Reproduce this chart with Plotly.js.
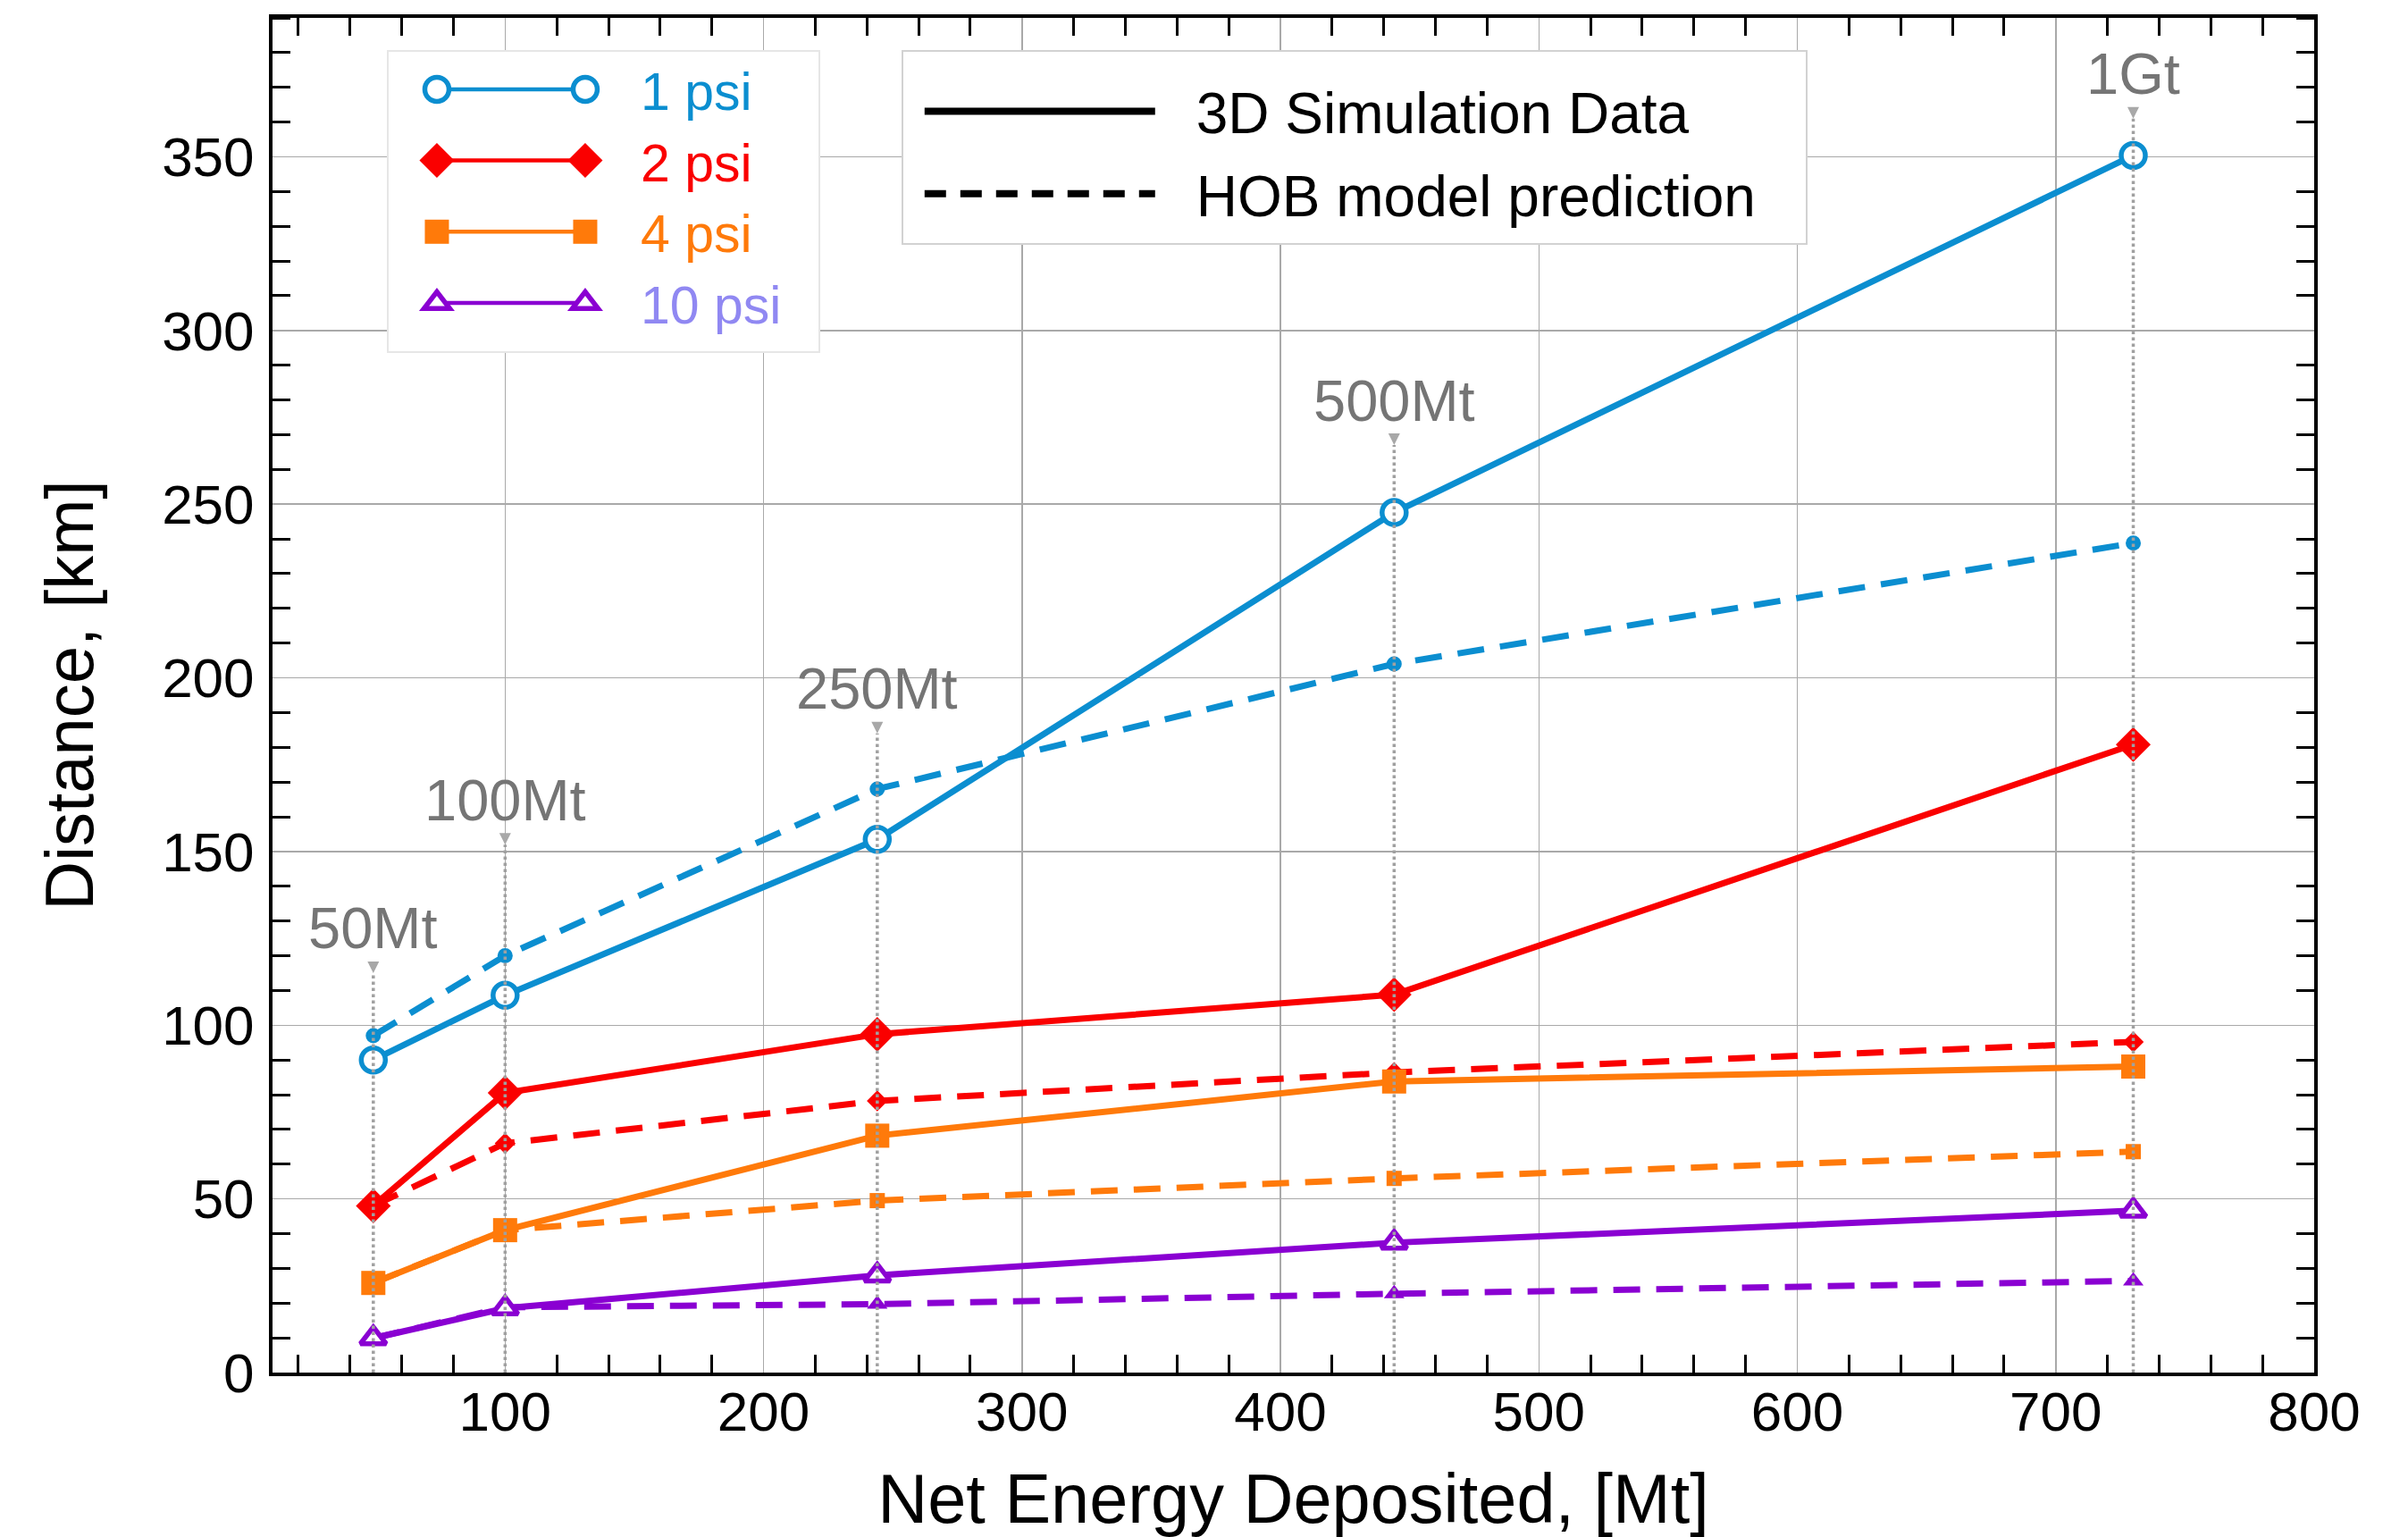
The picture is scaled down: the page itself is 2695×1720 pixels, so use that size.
<!DOCTYPE html>
<html>
<head>
<meta charset="utf-8">
<script src="https://cdn.plot.ly/plotly-3.0.1.min.js"></script>
<style>
html, body { margin: 0; padding: 0; background: #ffffff; }
#chart { width: 2695px; height: 1720px; }
</style>
</head>
<body>
<div id="chart"></div>
<script>
// ---------------- data ----------------
const energy = [49, 100, 244, 444, 730];               // Net energy deposited [Mt]
const sim1psi  = [90, 108.6, 153.5, 247.6, 350.4];
const hob1psi  = [97, 120, 168, 204, 238.8];
const sim2psi  = [48, 80.5, 97.4, 108.8, 180.8];
const hob2psi  = [48, 66, 78.2, 86.4, 95.2];
const sim4psi  = [25.8, 41, 68.2, 83.8, 88.1];
const hob4psi  = [25.8, 41, 49.5, 55.9, 63.6];
const sim10psi = [9.9, 18.5, 28, 37.4, 46.6];
const hob10psi = [9.9, 18.8, 19.7, 22.7, 26.4];
const yieldLabels = ['50Mt', '100Mt', '250Mt', '500Mt', '1Gt'];
const yieldMarkerTop = [115, 152, 184, 267, 361];
const seriesNames = ['1 psi', '2 psi', '4 psi', '10 psi'];
const styleNames = ['3D Simulation Data', 'HOB model prediction'];
const xTitle = 'Net Energy Deposited, [Mt]';
const yTitle = 'Distance, [km]';

// ---------------- styles ----------------
const FONT = '"Liberation Sans", Arial, Helvetica, sans-serif';
const colors = ['#0b8ed0', '#fa0000', '#ff7a0a', '#8a00d2'];
const legendTextColors = ['#0b8ed0', '#fa0000', '#ff7a0a', '#9088f2'];
const simSymbols = ['circle', 'diamond', 'square', 'triangle-up'];
const simHollow = [true, false, false, true];
const simSizes = [27, 30, 27, 25];
const hobSymbols = ['circle', 'diamond', 'square', 'triangle-up'];
const hobSizes = [17, 18, 17, 20];
const DASH = '30px,18px';

const simSeries = [sim1psi, sim2psi, sim4psi, sim10psi];
const hobSeries = [hob1psi, hob2psi, hob4psi, hob10psi];

const traces = [];
// dashed model predictions first (drawn below)
hobSeries.forEach((ys, i) => {
  traces.push({
    type: 'scatter', mode: 'lines+markers', x: energy, y: ys,
    name: seriesNames[i] + ' HOB', showlegend: false,
    line: { color: colors[i], width: 7, dash: DASH },
    marker: { symbol: hobSymbols[i], size: hobSizes[i], color: colors[i], line: { width: 0 } },
    hoverinfo: 'x+y'
  });
});
simSeries.forEach((ys, i) => {
  traces.push({
    type: 'scatter', mode: 'lines+markers', x: energy, y: ys,
    name: '<span style="color:' + legendTextColors[i] + '">' + seriesNames[i] + '</span>',
    legend: 'legend',
    line: { color: colors[i], width: 7 },
    marker: { symbol: simSymbols[i], size: simSizes[i],
              color: simHollow[i] ? '#ffffff' : colors[i],
              line: { width: simHollow[i] ? 5.5 : 0, color: colors[i] } },
    hoverinfo: 'x+y'
  });
});
// style legend entries (no data)
traces.push({ type: 'scatter', mode: 'lines', x: [null], y: [null], name: styleNames[0],
  legend: 'legend2', legendgroup: 'a', line: { color: '#000', width: 5 } });
traces.push({ type: 'scatter', mode: 'lines', x: [null], y: [null], name: styleNames[1],
  legend: 'legend2', legendgroup: 'b', line: { color: '#000', width: 5, dash: '24px,16px' } });

// dotted guide lines and yield labels
const shapes = energy.map((e, i) => ({
  type: 'line', xref: 'x', yref: 'y', x0: e, x1: e, y0: 0, y1: yieldMarkerTop[i],
  line: { color: '#a0a0a0', width: 3.5, dash: 'dot' }, layer: 'above'
}));
const annotations = energy.map((e, i) => ({
  x: e, y: yieldMarkerTop[i], xref: 'x', yref: 'y', text: yieldLabels[i],
  showarrow: true, ax: 0, ay: -50, arrowhead: 2, arrowsize: 1.3, arrowwidth: 2,
  arrowcolor: '#a8a8a8', standoff: 0,
  font: { family: FONT, size: 65, color: '#757575' }
}));

const axisCommon = {
  showline: true, linecolor: '#000', linewidth: 4, mirror: 'allticks',
  ticks: '', showgrid: true, gridcolor: '#a9a9a9', gridwidth: 1.5,
  zeroline: false, automargin: false,
  tickfont: { family: FONT, size: 62, color: '#000' }
};

const layout = {
  width: 2695, height: 1720,
  margin: { l: 305, r: 105, t: 20, b: 184 },
  paper_bgcolor: '#ffffff', plot_bgcolor: '#ffffff',
  font: { family: FONT, color: '#000' },
  showlegend: true,
  xaxis: Object.assign({}, axisCommon, {
    range: [10, 800], tick0: 0, dtick: 100, ticklabelstandoff: -13,
    minor: { dtick: 20, tick0: 0, ticks: 'inside', ticklen: 20, tickwidth: 3, tickcolor: '#000', showgrid: false },
    title: { text: xTitle, standoff: 58, font: { family: FONT, size: 77.5, color: '#000' } }
  }),
  yaxis: Object.assign({}, axisCommon, {
    range: [0, 390], tick0: 0, dtick: 50, ticklabelstandoff: 4,
    minor: { dtick: 10, tick0: 0, ticks: 'inside', ticklen: 20, tickwidth: 3, tickcolor: '#000', showgrid: false },
    title: { text: yTitle, standoff: 53, font: { family: FONT, size: 76, color: '#000' } }
  }),
  legend: {
    x: 0.056, y: 0.9782, xanchor: 'left', yanchor: 'top',
    bgcolor: '#ffffff', bordercolor: '#e6e6e6', borderwidth: 2,
    font: { family: FONT, size: 59 }, itemwidth: 272, traceorder: 'normal'
  },
  legend2: {
    x: 0.308, y: 0.9641, xanchor: 'left', yanchor: 'top',
    bgcolor: '#ffffff', bordercolor: '#d2d2d2', borderwidth: 2,
    font: { family: FONT, size: 64, color: '#000' }, itemwidth: 318,
    traceorder: 'grouped', tracegroupgap: 6
  },
  shapes: shapes,
  annotations: annotations
};

function restyleLegends(gd) {
  const traceGroups = gd.querySelectorAll('.scatterlayer .trace');
  // legend 1: long sample line with a marker at each end (same marker as in the plot)
  const lg1 = gd.querySelector('g.legend');
  if (lg1) {
    const bg = lg1.querySelector('rect.bg');
    if (bg) { bg.setAttribute('y', 4); bg.setAttribute('width', 483); bg.setAttribute('height', 337); }
    lg1.querySelectorAll('g.traces').forEach((item, k) => {
      const x0 = 54, x1 = 220;
      const line = item.querySelector('.legendlines path');
      if (line) { line.setAttribute('d', 'M' + x0 + ',0H' + x1); line.style.strokeWidth = '4.5px'; }
      const pts = item.querySelector('.legendpoints');
      const src = traceGroups[4 + k] ? traceGroups[4 + k].querySelector('.points path') : null;
      if (pts && src) {
        pts.querySelectorAll('path').forEach(p => p.remove());
        [x0, x1].forEach(x => {
          const p = src.cloneNode(true);
          p.setAttribute('transform', 'translate(' + x + ',0)');
          pts.appendChild(p);
        });
      }
    });
  }
  const lg2 = gd.querySelector('g.legend2');
  if (lg2) {
    const bg = lg2.querySelector('rect.bg');
    if (bg) { bg.setAttribute('y', -17.5); bg.setAttribute('width', 1012); bg.setAttribute('height', 216); }
    lg2.querySelectorAll('g.traces').forEach(item => {
      const line = item.querySelector('.legendlines path');
      if (line) { line.setAttribute('d', 'M24,0H282'); line.style.strokeWidth = '8px'; }
    });
  }
}

Plotly.newPlot('chart', traces, layout, { staticPlot: true, displayModeBar: false })
  .then(gd => restyleLegends(gd));
</script>
</body>
</html>
